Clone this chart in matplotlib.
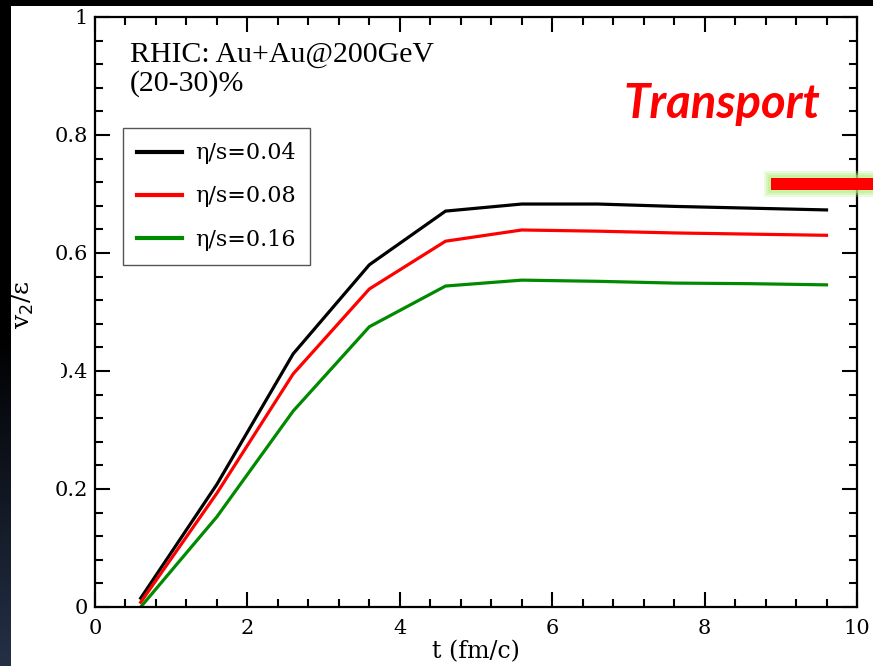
import numpy as np
import matplotlib
matplotlib.use("Agg")
import matplotlib.pyplot as plt
from matplotlib.patches import Rectangle
from matplotlib.ticker import MultipleLocator, FuncFormatter

# time steps (fm/c) and v2/eps for three viscosities
t = [0.6, 1.6, 2.6, 3.6, 4.6, 5.6, 6.6, 7.6, 8.6, 9.6]
v2_004 = [0.015, 0.208, 0.429, 0.580, 0.671, 0.683, 0.683, 0.679, 0.676, 0.673]
v2_008 = [0.008, 0.193, 0.395, 0.539, 0.620, 0.639, 0.637, 0.634, 0.632, 0.630]
v2_016 = [0.000, 0.153, 0.332, 0.475, 0.544, 0.554, 0.552, 0.549, 0.548, 0.546]
labels = [r"η/s=0.04", r"η/s=0.08", r"η/s=0.16"]
colors = ["black", "red", "#008a00"]

W, H = 873, 666
fig = plt.figure(figsize=(W / 100, H / 100), dpi=100)
fig.patch.set_facecolor("white")

def fx(px):
    return px / W

def fy(py):
    return 1 - py / H

ax = fig.add_axes([fx(95), fy(607), 762 / W, 590 / H])

for ys, lab, c in zip([v2_004, v2_008, v2_016], labels, colors):
    ax.plot(t, ys, color=c, lw=2.3, label=lab, solid_joinstyle="miter")

ax.set_xlim(0, 10)
ax.set_ylim(0, 1)
ax.xaxis.set_major_locator(MultipleLocator(2))
ax.xaxis.set_minor_locator(MultipleLocator(0.4))
ax.yaxis.set_major_locator(MultipleLocator(0.2))
ax.yaxis.set_minor_locator(MultipleLocator(0.04))
fmt = FuncFormatter(lambda v, p: "%g" % v)
ax.xaxis.set_major_formatter(fmt)
ax.yaxis.set_major_formatter(fmt)
ax.tick_params(which="both", direction="in", top=True, right=True, width=1.5)
ax.tick_params(which="major", length=11)
ax.tick_params(which="minor", length=6)
ax.tick_params(axis="y", which="major", pad=5)
ax.tick_params(axis="x", which="major", pad=9)
for lbl in ax.get_xticklabels() + ax.get_yticklabels():
    lbl.set_fontfamily("DejaVu Serif")
    lbl.set_fontsize(15)
for s in ax.spines.values():
    s.set_linewidth(1.6)

ax.set_xlabel("t (fm/c)", family="DejaVu Serif", fontsize=17, labelpad=1)
fig.text(fx(23), fy(305), r"v$_2$/ε", rotation=90, ha="center", va="center",
         family="DejaVu Serif", fontsize=18)

leg = ax.legend(loc="upper left", bbox_to_anchor=(0.0367, 0.812), borderaxespad=0,
                fancybox=False, edgecolor="#555555", framealpha=1,
                handlelength=2.0, handletextpad=0.6, labelspacing=0.95,
                borderpad=0.65, prop={"family": "DejaVu Serif", "size": 16})
leg.get_frame().set_linewidth(1.0)
for line in leg.get_lines():
    line.set_linewidth(3)

ax.text(0.046, 0.924, "RHIC: Au+Au@200GeV", transform=ax.transAxes,
        family="Liberation Serif", fontsize=21.5, va="baseline")
ax.text(0.046, 0.875, "(20-30)%", transform=ax.transAxes,
        family="Liberation Serif", fontsize=21.5, va="baseline")

# slide overlay: title word, red bar with glow, dark borders
fig.text(fx(722), fy(118), "Transport", color="red", fontsize=34,
         family="Lato", weight="bold", style="italic", ha="center", va="baseline")

for pad, a in [(7, 0.25), (5, 0.35), (3, 0.5)]:
    fig.add_artist(Rectangle((fx(771 - pad), fy(190 + pad)), (W - 771 + pad) / W,
                             (12 + 2 * pad) / H, transform=fig.transFigure,
                             color="#b6ef84", alpha=a, lw=0, zorder=5))
fig.add_artist(Rectangle((fx(771), fy(190)), (W - 771) / W, 12 / H,
                         transform=fig.transFigure, color="red", lw=0, zorder=6))

fig.add_artist(Rectangle((fx(40), fy(384)), 21 / W, 24 / H,
                         transform=fig.transFigure, color="white", lw=0, zorder=5))

fig.add_artist(Rectangle((0, fy(6)), 1, 6 / H, transform=fig.transFigure,
                         color="black", lw=0, zorder=7))
strip = fig.add_axes([0, 0, 11 / W, 1])
grad = np.linspace(0, 1, 256).reshape(-1, 1)
cmap = matplotlib.colors.LinearSegmentedColormap.from_list("edge", ["#000000", "#000000", "#243046"])
strip.imshow(grad, aspect="auto", cmap=cmap)
strip.set_axis_off()

fig.savefig("out.png", dpi=100)
